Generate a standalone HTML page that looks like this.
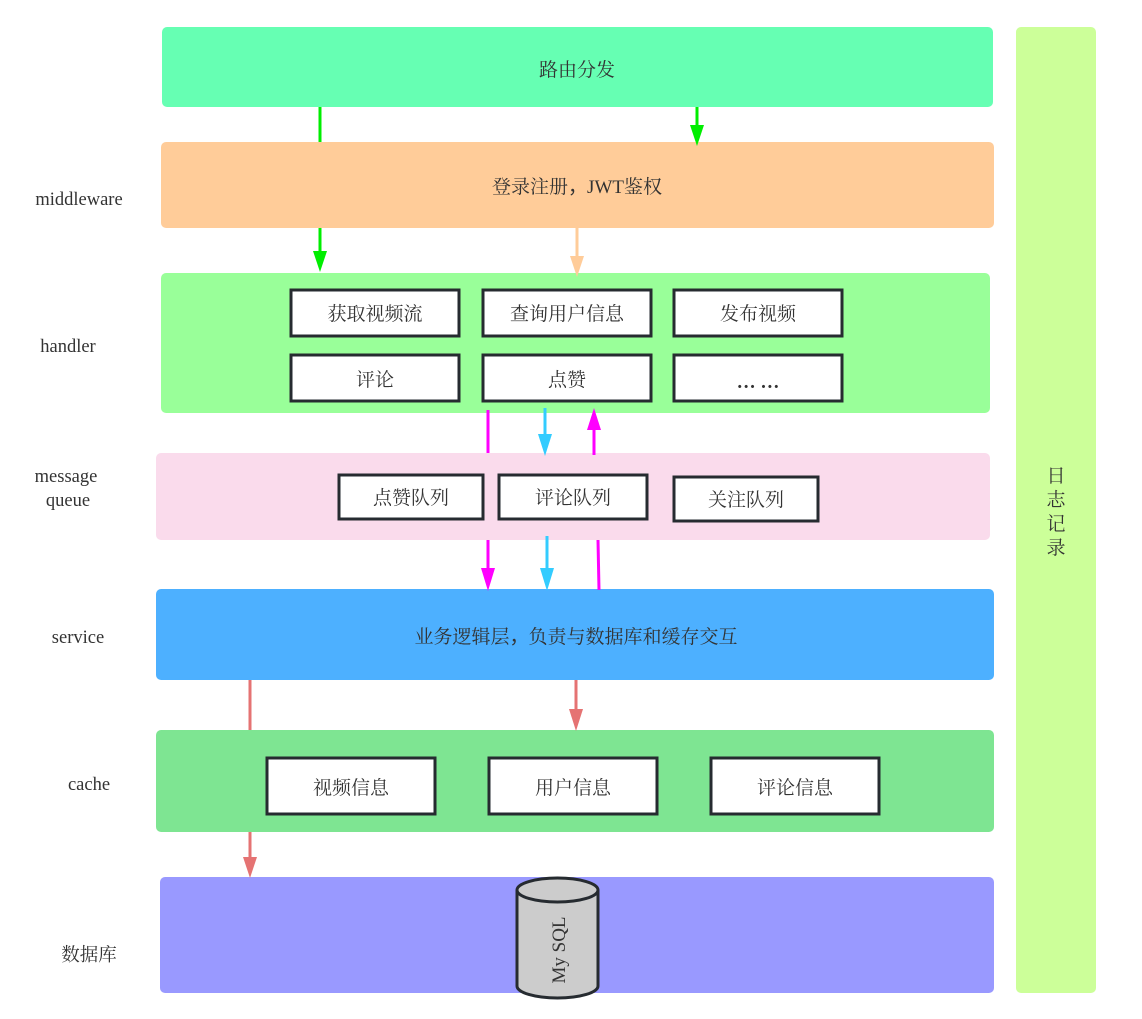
<!DOCTYPE html>
<html><head><meta charset="utf-8"><style>
html,body{margin:0;padding:0;background:#fff;}
svg{display:block;}
text{font-family:"Liberation Serif","Noto Serif CJK SC",serif;fill:#333;}
.c{font-family:"Noto Sans CJK SC","WenQuanYi Zen Hei","Noto Serif CJK SC",sans-serif;}
</style></head><body>
<svg width="1142" height="1019" viewBox="0 0 1142 1019" xmlns="http://www.w3.org/2000/svg">
<rect x="162" y="27" width="831" height="80" rx="5" fill="#66ffb3"/>
<rect x="1016" y="27" width="80" height="966" rx="5" fill="#ccff99"/>
<rect x="161" y="142" width="833" height="86" rx="5" fill="#ffcc99"/>
<rect x="161" y="273" width="829" height="140" rx="5" fill="#99ff99"/>
<rect x="156" y="453" width="834" height="87" rx="5" fill="#fadbec"/>
<rect x="156" y="589" width="838" height="91" rx="5" fill="#4db0ff"/>
<rect x="156" y="730" width="838" height="102" rx="5" fill="#7ee592"/>
<rect x="160" y="877" width="834" height="116" rx="5" fill="#9999ff"/>

<text x="577" y="76" font-size="19" text-anchor="middle">路由分发</text>
<text x="577" y="193" font-size="19" text-anchor="middle">登录注册<tspan class="c">，</tspan>JWT鉴权</text>
<text x="576" y="643" font-size="19" text-anchor="middle">业务逻辑层<tspan class="c">，</tspan>负责与数据库和缓存交互</text>

<g font-size="19" text-anchor="middle" style="font-family:'Liberation Sans','Noto Sans CJK SC',sans-serif">
<text x="1056" y="482">日</text><text x="1056" y="506">志</text><text x="1056" y="530">记</text><text x="1056" y="554">录</text>
</g>

<g font-size="18.5" text-anchor="middle">
<text x="79" y="205">middleware</text>
<text x="68" y="352">handler</text>
<text x="66" y="482">message</text>
<text x="68" y="506">queue</text>
<text x="78" y="643">service</text>
<text x="89" y="790">cache</text>
<text x="89" y="961">数据库</text>
</g>

<g fill="#fff" stroke="#262b30" stroke-width="3">
<rect x="291" y="290" width="168" height="46"/>
<rect x="483" y="290" width="168" height="46"/>
<rect x="674" y="290" width="168" height="46"/>
<rect x="291" y="355" width="168" height="46"/>
<rect x="483" y="355" width="168" height="46"/>
<rect x="674" y="355" width="168" height="46"/>
<rect x="339" y="475" width="144" height="44"/>
<rect x="499" y="475" width="148" height="44"/>
<rect x="674" y="477" width="144" height="44"/>
<rect x="267" y="758" width="168" height="56"/>
<rect x="489" y="758" width="168" height="56"/>
<rect x="711" y="758" width="168" height="56"/>
</g>
<g font-size="19" text-anchor="middle">
<text x="375" y="320">获取视频流</text>
<text x="567" y="320">查询用户信息</text>
<text x="758" y="320">发布视频</text>
<text x="375" y="386">评论</text>
<text x="567" y="386">点赞</text>
<text x="758" y="388" font-weight="bold">… …</text>
<text x="411" y="504">点赞队列</text>
<text x="573" y="504">评论队列</text>
<text x="746" y="506">关注队列</text>
<text x="351" y="794">视频信息</text>
<text x="573" y="794">用户信息</text>
<text x="795" y="794">评论信息</text>
</g>

<path d="M517 890 L517 986 A40.5 12 0 0 0 598 986 L598 890" fill="#cccccc" stroke="#262b30" stroke-width="3"/>
<ellipse cx="557.5" cy="890" rx="40.5" ry="12" fill="#cccccc" stroke="#262b30" stroke-width="3"/>
<text x="0" y="0" font-size="19" text-anchor="middle" transform="translate(565,950) rotate(-90)">My SQL</text>

<g stroke-width="3" fill="none">
<line x1="320" y1="107" x2="320" y2="142" stroke="#00ee00"/>
<line x1="697" y1="107" x2="697" y2="128" stroke="#00ee00"/>
<line x1="320" y1="228" x2="320" y2="255" stroke="#00ee00"/>
<line x1="577" y1="228" x2="577" y2="258" stroke="#ffcc99"/>
<line x1="488" y1="410" x2="488" y2="453" stroke="#ff00ff"/>
<line x1="545" y1="408" x2="545" y2="438" stroke="#33ccff"/>
<line x1="594" y1="427" x2="594" y2="455" stroke="#ff00ff"/>
<line x1="488" y1="540" x2="488" y2="572" stroke="#ff00ff"/>
<line x1="547" y1="536" x2="547" y2="572" stroke="#33ccff"/>
<line x1="598" y1="540" x2="599" y2="590" stroke="#ff00ff"/>
<line x1="250" y1="680" x2="250" y2="730" stroke="#e57373"/>
<line x1="576" y1="680" x2="576" y2="712" stroke="#e57373"/>
<line x1="250" y1="832" x2="250" y2="860" stroke="#e57373"/>
</g>
<polygon points="690,125 704,125 697,146" fill="#00ee00"/>
<polygon points="313,251 327,251 320,272" fill="#00ee00"/>
<polygon points="570,256 584,256 577,277" fill="#ffcc99"/>
<polygon points="538,434 552,434 545,456" fill="#33ccff"/>
<polygon points="587,430 601,430 594,408" fill="#ff00ff"/>
<polygon points="481,568 495,568 488,591" fill="#ff00ff"/>
<polygon points="540,568 554,568 547,591" fill="#33ccff"/>
<polygon points="569,709 583,709 576,731" fill="#e57373"/>
<polygon points="243,857 257,857 250,878" fill="#e57373"/>
</svg>
</body></html>
